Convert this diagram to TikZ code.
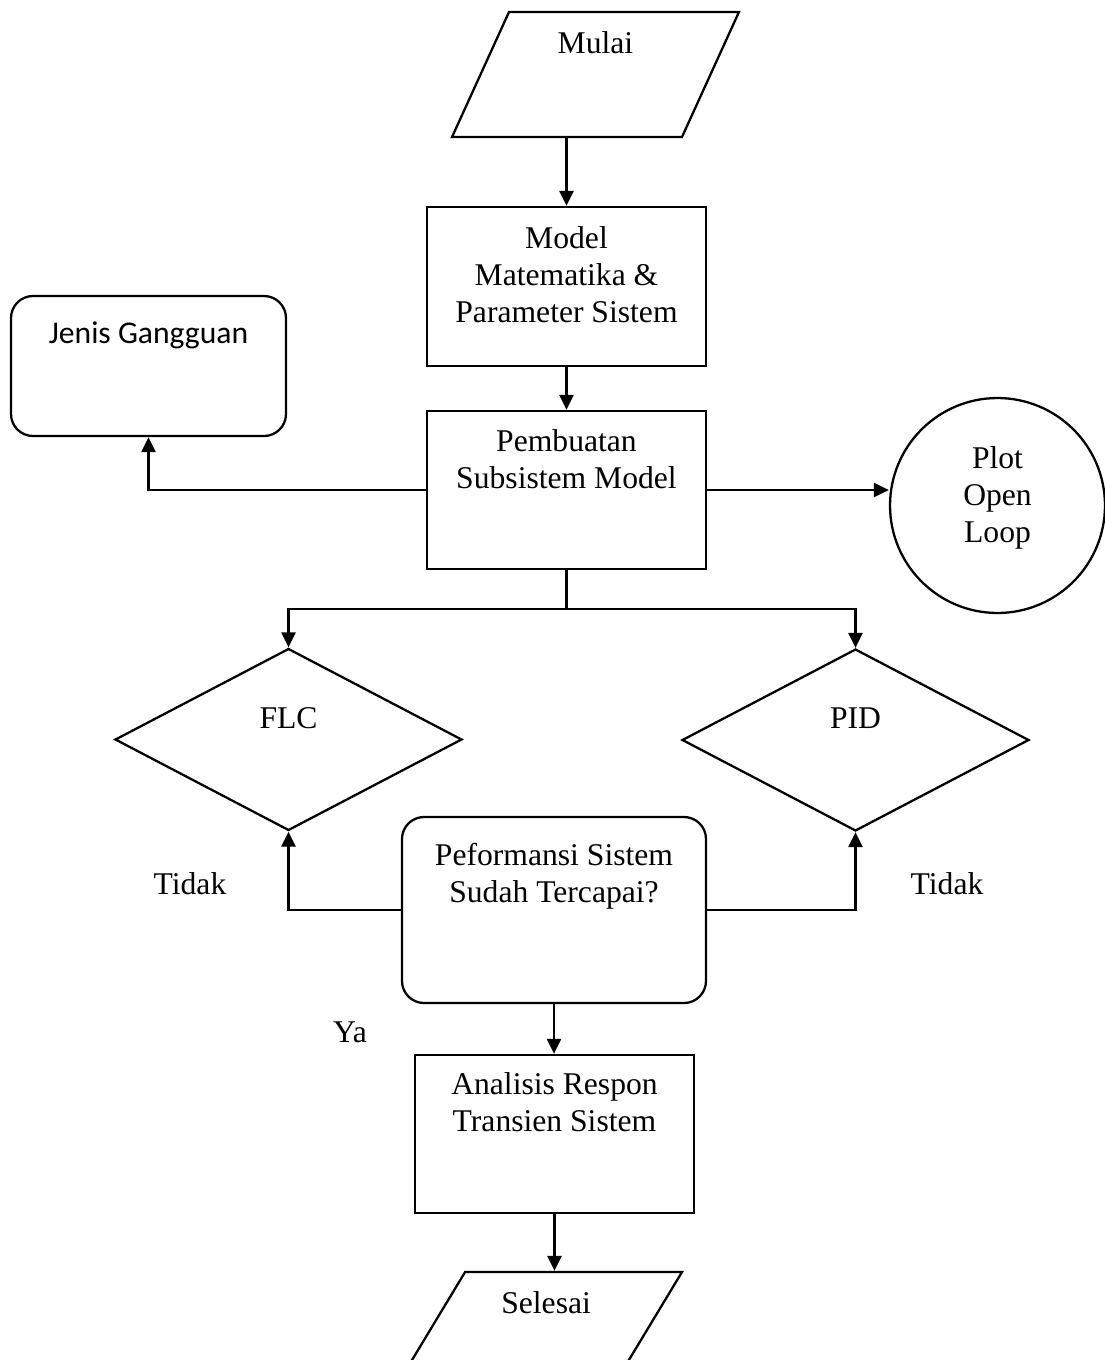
\documentclass[tikz,border=0pt]{standalone}
\usepackage{fontspec}
\setmainfont{Liberation Serif}
\newfontfamily\calibri{Carlito}
\usetikzlibrary{shapes.geometric,arrows.meta}
\newlength{\px}
\setlength{\px}{0.02cm}
% lines set at the top of a box: width, height, first baseline, text
\newcommand{\toplines}[4]{\parbox[c][#2][t]{#1}{\centering\rule{0pt}{#3}#4}}

\begin{document}
\begin{tikzpicture}[x=0.02cm, y=-0.02cm, line width=1.3pt,
    >={Triangle[length=0.3cm,width=0.28cm]},
    every node/.style={font=\fontsize{18}{21.3}\selectfont},
    block/.style={draw, rectangle, inner sep=0pt},
    rblock/.style={draw, rectangle, rounded corners=0.44cm, inner sep=0pt},
    io/.style={draw, trapezium, inner sep=0pt},
    decision/.style={draw, diamond, minimum width=6.94cm, minimum height=3.64cm, inner sep=0pt, text depth=0.86cm},
    terminal/.style={draw, circle, minimum size=4.3cm, inner sep=0pt}]
        \useasboundingbox (0,0) rectangle (1105,1360);
        \node[io, trapezium left angle=65.5, trapezium right angle=114.5] (mulai) at (595.5,74.5) {\toplines{173\px}{125\px}{41\px}{Mulai}};
        \node[block] (model) at (566.5,286.5) {\toplines{279\px}{159\px}{41\px}{Model\\Matematika \&\\Parameter Sistem}};
        \node[block] (pembuatan) at (566.5,490) {\toplines{279\px}{158\px}{40\px}{Pembuatan\\Subsistem Model}};
        \node[rblock] (jenis) at (148.5,366) {\toplines{275\px}{140\px}{47\px}{\calibri Jenis Gangguan}};
        \node[terminal] (plot) at (997.5,505.5) {\toplines{100\px}{120\px}{22.5\px}{Plot\\Open\\Loop}};
        \node[decision] (flc) at (288.5,739.5) {FLC};
        \node[decision] (pid) at (855.5,740) {PID};
        \node[rblock] (cek) at (554,910) {\toplines{304\px}{186\px}{48\px}{Peformansi Sistem\\Sudah Tercapai?}};
        \node[block] (analisis) at (554.5,1134) {\toplines{279\px}{158\px}{39\px}{Analisis Respon\\Transien Sistem}};
        \node[io, trapezium left angle=58.9, trapezium right angle=121.1] (selesai) at (546.1,1317.5) {\toplines{162\px}{91\px}{41\px}{Selesai}};
        \node (tidak1) at (190,884) {Tidak};
        \node (tidak2) at (947,884) {Tidak};
        \node (ya) at (350,1032) {Ya};
        % start to model
        \draw[->] (mulai.south -| model.north) -- (model.north);
        \draw[->] (model.south) -- (pembuatan.north);
        % side outputs of the subsystem
        \draw[->] (pembuatan.west) -| (jenis.south);
        \draw[->] (pembuatan.east) -- (plot.west |- pembuatan.east);
        % split to the two controllers
        \draw[->] (pembuatan.south) -- ++(0,39) -| (flc.north);
        \draw[->] (pembuatan.south) -- ++(0,39) -| (pid.north);
        % back to the controllers when not reached
        \draw[->] (cek.west) -| (flc.south);
        \draw[->] (cek.east) -| (pid.south);
        % reached
        \draw[->] (cek.south) -- (cek.south |- analisis.north);
        \draw[->] (analisis.south) -- (analisis.south |- selesai.north);
    \end{tikzpicture}
\end{document}
